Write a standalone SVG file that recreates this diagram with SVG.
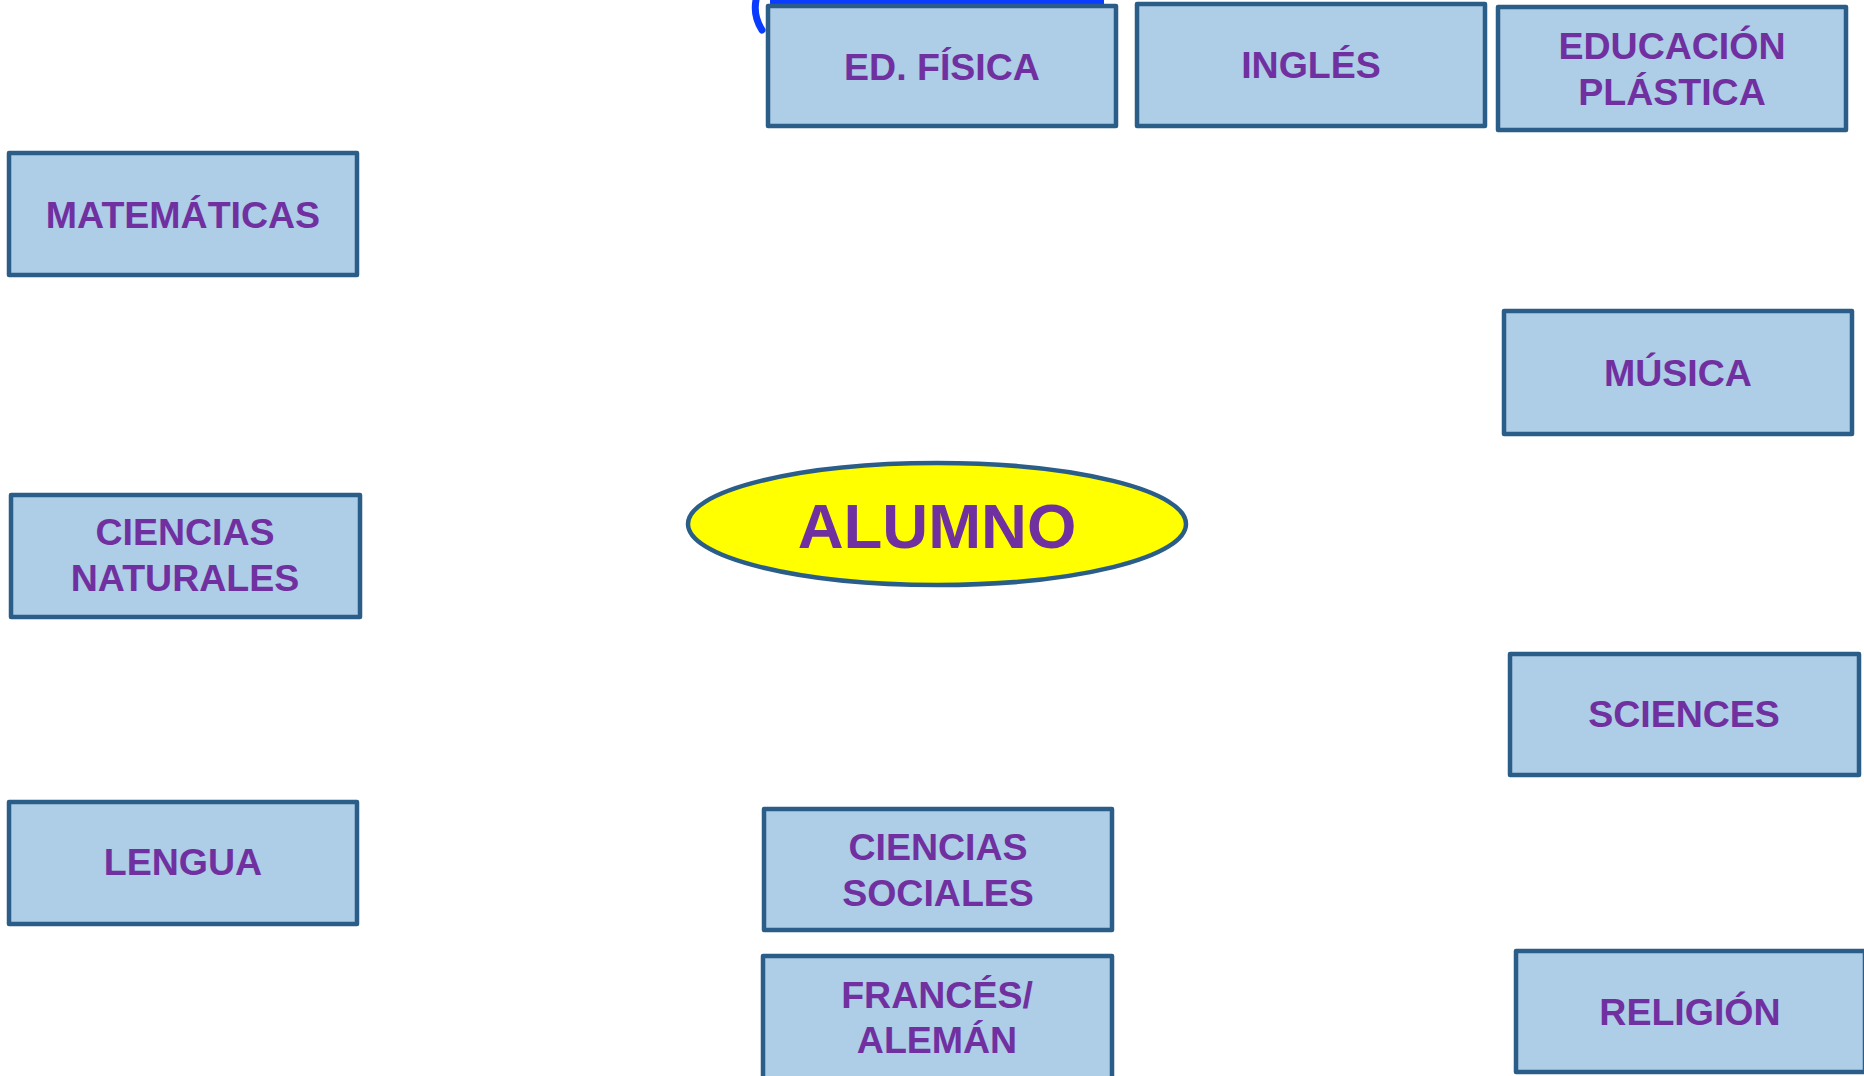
<svg xmlns="http://www.w3.org/2000/svg" width="1864" height="1076" viewBox="0 0 1864 1076">
<style>
.box{fill:#AECDE6;stroke:#2A5E89;stroke-width:4.5;stroke-linejoin:round}
.lbl{font-family:"Liberation Sans",Arial,sans-serif;font-weight:bold;font-size:37.5px;fill:#7030A0;text-anchor:middle}
.big{font-size:63.5px}
.ell{fill:#FFFF00;stroke:#2A5E89;stroke-width:4.5}
</style>
<rect width="1864" height="1076" fill="#FFFFFF"/>
<g id="fragment">
<path d="M756,0 Q753,16 762,30" fill="none" stroke="#0A3CFF" stroke-width="7" stroke-linecap="round"/>
<path d="M770,2 H1104" fill="none" stroke="#0A3CFF" stroke-width="5"/>
</g>
<g id="connectors"></g>
<g id="ed-fisica"><rect class="box" x="768" y="6" width="348" height="120"/><text class="lbl" x="942" y="80">ED. FÍSICA</text></g>
<g id="ingles"><rect class="box" x="1137" y="4" width="348" height="122"/><text class="lbl" x="1311" y="78">INGLÉS</text></g>
<g id="educacion-plastica"><rect class="box" x="1498" y="7" width="348" height="123"/><text class="lbl" x="1672" y="59">EDUCACIÓN</text><text class="lbl" x="1672" y="105">PLÁSTICA</text></g>
<g id="matematicas"><rect class="box" x="9" y="153" width="348" height="122"/><text class="lbl" x="183" y="228">MATEMÁTICAS</text></g>
<g id="musica"><rect class="box" x="1504" y="311" width="348" height="123"/><text class="lbl" x="1678" y="386">MÚSICA</text></g>
<g id="alumno"><ellipse class="ell" cx="937" cy="524" rx="249" ry="61"/><text class="lbl big" x="937" y="548">ALUMNO</text></g>
<g id="ciencias-naturales"><rect class="box" x="11" y="495" width="349" height="122"/><text class="lbl" x="185" y="545">CIENCIAS</text><text class="lbl" x="185" y="591">NATURALES</text></g>
<g id="sciences"><rect class="box" x="1510" y="654" width="349" height="121"/><text class="lbl" x="1684" y="727">SCIENCES</text></g>
<g id="lengua"><rect class="box" x="9" y="802" width="348" height="122"/><text class="lbl" x="183" y="875">LENGUA</text></g>
<g id="ciencias-sociales"><rect class="box" x="764" y="809" width="348" height="121"/><text class="lbl" x="938" y="860">CIENCIAS</text><text class="lbl" x="938" y="906">SOCIALES</text></g>
<g id="frances-aleman"><rect class="box" x="763" y="956" width="349" height="124"/><text class="lbl" x="937" y="1008">FRANCÉS/</text><text class="lbl" x="937" y="1053">ALEMÁN</text></g>
<g id="religion"><rect class="box" x="1516" y="951" width="349" height="121"/><text class="lbl" x="1690" y="1025">RELIGIÓN</text></g>
</svg>
